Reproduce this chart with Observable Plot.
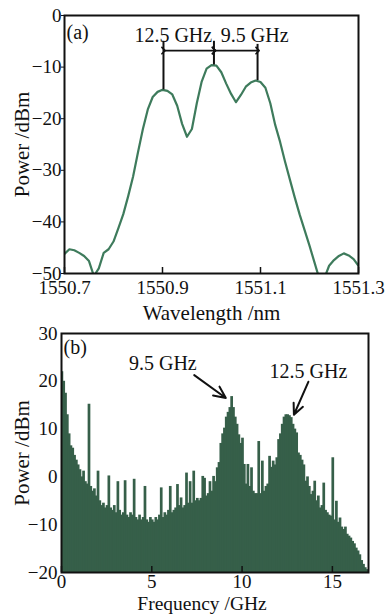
<!DOCTYPE html>
<html><head><meta charset="utf-8">
<script src="https://cdn.jsdelivr.net/npm/d3@7"></script>
<script src="https://cdn.jsdelivr.net/npm/@observablehq/plot@0.6"></script>
<style>body{margin:0;background:#fff} svg{display:block;overflow:visible} #wrap{width:387px}</style>
</head><body><div id="wrap"><div id="a"></div><div id="b"></div></div>
<script>
// ---------- Panel (a): optical spectrum ----------
const wavelengthStart = 1550.70;
const wavelengthStep = 0.01;
const opticalPower = [
  -46.2, -45.3, -45.5, -46, -46.6, -47.6, -50.5, -49, -46, -45.3,
  -43.8, -41.2, -38.5, -35, -31.2, -26.5, -22, -18.2, -15.8, -14.8,
  -14.4, -14.6, -15.3, -17.5, -21, -23.5, -22, -17, -12.8, -10.3,
  -9.6, -9.7, -11, -13.2, -15.2, -16.8, -15.4, -13.8, -13, -12.6,
  -12.9, -14, -17, -21.2, -24.5, -28.3, -31.8, -35.3, -38.6, -41.6,
  -44.6, -47.8, -51, -51, -48.5, -47.4, -46.6, -46.1, -46.5, -47.2, -48.5
];
const wavelengthTicks = [1550.7, 1550.9, 1551.1, 1551.3];
const powerTicksA = [0, -10, -20, -30, -40, -50];
const peakWavelengths = [1550.902, 1551.005, 1551.094];
const peakPowers = [-14.4, -9.6, -12.6];
const peakLineTops = [-5, -5, -5.6];
const spacingArrowLevel = -6.8;
const spacingLabels = ["12.5 GHz", "9.5 GHz"];
const spacingLabelX = [1550.922, 1551.088];
const spacingLabelLevel = -3.9;

// ---------- Panel (b): RF spectrum ----------
const freqStep = 0.1;
const rfPower = [
  22, 20, 17.5, 13, 9, 6.5, 6, 4.5, 3.5, 2.5,
  1.5, 0, 1.2, -1, -1.5, 15.2, -2, -3, -2.5, -4,
  1.2, -5, -6, -5.5, -6.5, -6, 0.2, -6.5, -7, -6,
  -7.5, -1, -7, -8, -7.5, -0.8, -8, -8.5, -7.5, -8,
  -0.5, -8.5, -9, -8, -9, -8.5, -2, -9, -9.5, -8.5,
  -9, -9.5, -8.5, -9, -8, -2.3, -8.5, -7.5, -8, -7,
  -2, -7.5, -7, -6.5, -1.6, -6, -4.4, -6.5, -6, 0.8,
  -5.5, -1, -5.5, 1.2, -5, -4.5, -5, -4.5, 0.1, -0.3,
  -4, -3.5, -1, -3, 0.1, -1, 1.9, 3, 7, 9,
  10.2, 12.5, 13.5, 14.5, 16.8, 14.5, 12.5, 11, 8.8, 7,
  8.1, 2.6, -1.5, 2.6, -2, 1.9, -3, -3.5, -3.5, 7.4,
  -3.5, 3.3, -3, -2, -1.5, 4.3, 2, 3.3, 2.5, 4,
  7.8, 9, 11, 12.5, 13, 13, 12.8, 12.4, 11, 10,
  9.2, 5, 4.5, 3.5, 2.5, -0.9, 0, -2, -3.7, -3,
  -0.9, -5, -4, -6.5, -6, -1.3, -7, -7.5, -8, -8.2,
  4, -9, -5.1, -9.5, -8.6, -10.5, -11, -10.5, -12, -12.4,
  -12.8, -13.5, -14, -14.9, -15.5, -16.3, -17.5, -18.3, -19, -19.4
];
const freqTicks = [0, 5, 10, 15];
const powerTicksB = [30, 20, 10, 0, -10, -20];
const arrowLabels = ["9.5 GHz", "12.5 GHz"];
const arrowLabelX = [5.61, 13.67];
const arrowLabelY = [23.8, 22.1];
const arrowFromX = [7.35, 13.67];
const arrowFromY = [21.3, 19.9];
const arrowToX = [9.1, 12.87];
const arrowToY = [16.5, 13.0];

const FONT = "'Liberation Serif', 'Times New Roman', serif";
const LINE = "#3e7b5c";
const FILL = "#365f49";

// tables
const optical = opticalPower.map((p, i) => ({wl: +(wavelengthStart + i * wavelengthStep).toFixed(3), p}));
const peaks = peakWavelengths.map((wl, i) => ({wl, p: peakPowers[i], top: peakLineTops[i]}));
const spans = [0, 1].map(i => ({a: peakWavelengths[i], b: peakWavelengths[i + 1]}));
const spanLabels = spacingLabels.map((t, i) => ({t, x: spacingLabelX[i]}));
const rf = rfPower.map((v, i) => ({f1: +(i * freqStep).toFixed(2), f2: +((i + 1) * freqStep).toFixed(2), v}));
const arrows = arrowLabels.map((t, i) => ({t, lx: arrowLabelX[i], ly: arrowLabelY[i], x1: arrowFromX[i], y1: arrowFromY[i], x2: arrowToX[i], y2: arrowToY[i]}));

const plotA = Plot.plot({
  width: 387, height: 322,
  marginTop: 15, marginBottom: 49, marginLeft: 64, marginRight: 29,
  style: {fontFamily: FONT, fontSize: "19px", color: "#111", background: "transparent", overflow: "visible"},
  x: {domain: [1550.7, 1551.3], ticks: wavelengthTicks, tickFormat: d => d.toFixed(1), tickSize: 0, tickPadding: 7, label: null},
  y: {domain: [-50, 0], ticks: powerTicksA, tickSize: 3, tickPadding: 0, label: null},
  marks: [
    Plot.line(optical, {x: "wl", y: "p", stroke: LINE, strokeWidth: 2.2, clip: true}),
    Plot.ruleX(peaks, {x: "wl", y1: "p", y2: "top", stroke: "#111", strokeWidth: 2}),
    Plot.link(spans, {x1: "a", x2: "b", y1: spacingArrowLevel, y2: spacingArrowLevel, stroke: "#111", strokeWidth: 1.6, markerStart: "arrow", markerEnd: "arrow"}),
    Plot.text(spanLabels, {x: "x", y: spacingLabelLevel, text: "t", fontSize: 20, fill: "#111"}),
    Plot.text(["(a)"], {frameAnchor: "top-left", textAnchor: "start", lineAnchor: "middle", dx: 2, dy: 17, fontSize: 20, fill: "#111"}),
    Plot.ruleX(wavelengthTicks, {x: d => d, insetTop: 252, stroke: "#111", strokeWidth: 1.5}),
    Plot.frame({stroke: "#111", strokeWidth: 2}),
    Plot.text(["Wavelength /nm"], {frameAnchor: "bottom", lineAnchor: "middle", dy: 39.5, fontSize: 21, fill: "#111"}),
    Plot.text(["Power /dBm"], {frameAnchor: "left", textAnchor: "middle", lineAnchor: "middle", dx: -42, rotate: -90, fontSize: 21, fill: "#111"})
  ]
});
document.getElementById("a").append(plotA);

const plotB = Plot.plot({
  width: 387, height: 293,
  marginTop: 11, marginBottom: 43, marginLeft: 61, marginRight: 19,
  style: {fontFamily: FONT, fontSize: "19px", color: "#111", background: "transparent", overflow: "visible"},
  x: {domain: [0, 17], ticks: freqTicks, tickSize: 0, tickPadding: 2, label: null},
  y: {domain: [-20, 30], ticks: powerTicksB, tickSize: 0, tickPadding: 4, label: null},
  marks: [
    Plot.rect(rf, {x1: "f1", x2: "f2", y1: -20, y2: "v", fill: FILL, insetLeft: -0.45, insetRight: -0.45, clip: true}),
    Plot.arrow(arrows, {x1: "x1", y1: "y1", x2: "x2", y2: "y2", stroke: "#111", strokeWidth: 2, headLength: 11, headAngle: 50}),
    Plot.text(arrows, {x: "lx", y: "ly", text: "t", fontSize: 20, fill: "#111"}),
    Plot.text(["(b)"], {frameAnchor: "top-left", textAnchor: "start", lineAnchor: "middle", dx: 2, dy: 14, fontSize: 20, fill: "#111"}),
    Plot.ruleX(freqTicks, {x: d => d, insetTop: 233, stroke: "#111", strokeWidth: 1.5}),
    Plot.frame({stroke: "#111", strokeWidth: 2}),
    Plot.text(["Frequency /GHz"], {frameAnchor: "bottom", lineAnchor: "middle", dy: 31, dx: -13, fontSize: 19.5, fill: "#111"}),
    Plot.text(["Power /dBm"], {frameAnchor: "left", textAnchor: "middle", lineAnchor: "middle", dx: -39, rotate: -90, fontSize: 21, fill: "#111"})
  ]
});
document.getElementById("b").append(plotB);
</script>
</body></html>
